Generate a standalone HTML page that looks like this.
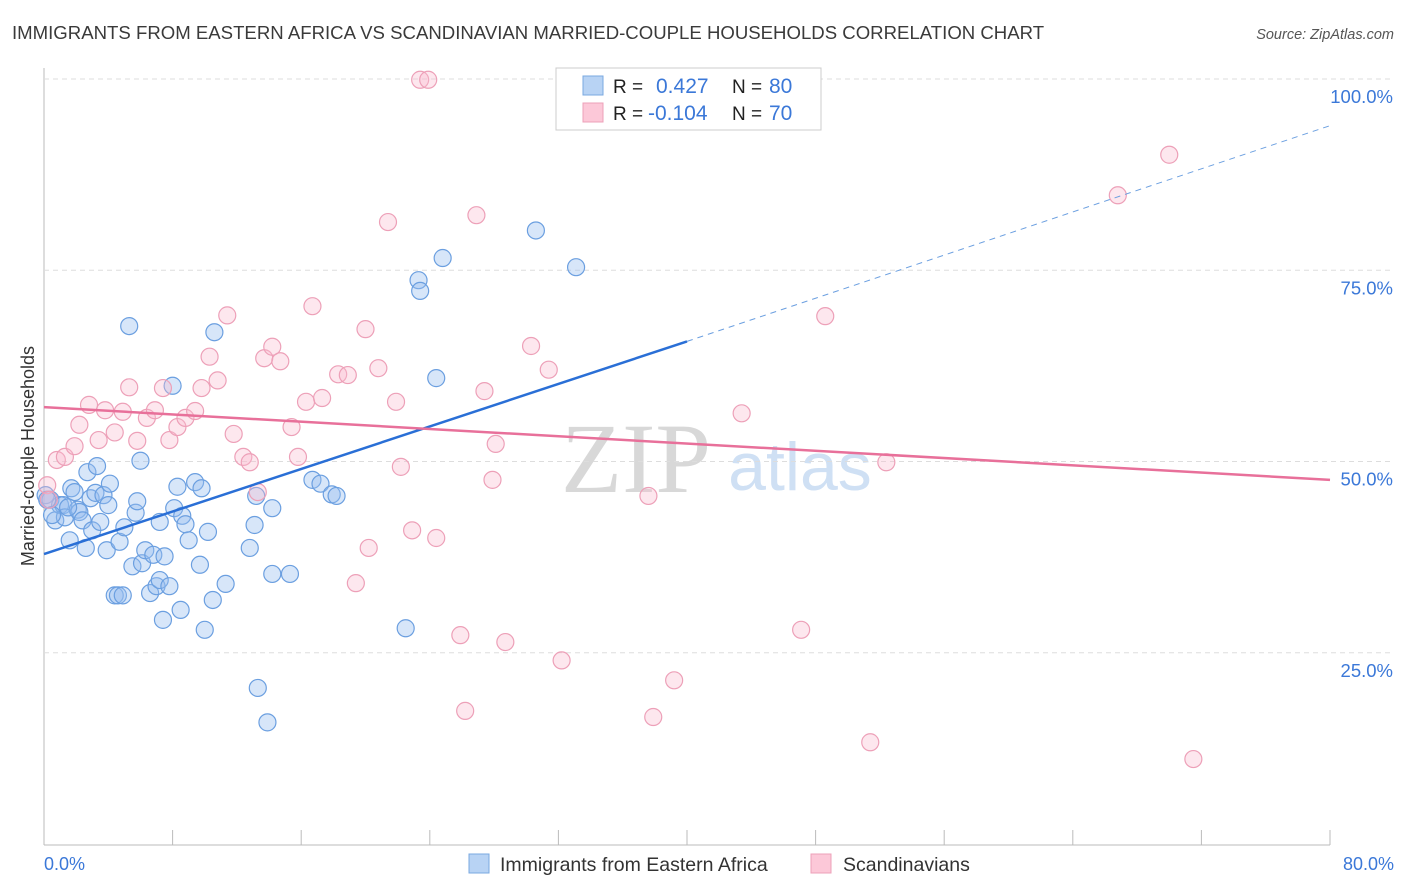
<!DOCTYPE html>
<html><head><meta charset="utf-8"><style>
body{margin:0;background:#fff;font-family:"Liberation Sans",sans-serif;}
svg{display:block}
</style></head><body>
<svg id="chart" width="1406" height="892">
<text x="12" y="39" font-size="18.6" fill="#3a3a3a">IMMIGRANTS FROM EASTERN AFRICA VS SCANDINAVIAN MARRIED-COUPLE HOUSEHOLDS CORRELATION CHART</text>
<text x="1394" y="39" font-size="14.5" fill="#555" font-style="italic" text-anchor="end">Source: ZipAtlas.com</text>
<text transform="translate(34,456) rotate(-90)" font-size="18" fill="#333" text-anchor="middle">Married-couple Households</text>
<text x="636" y="492" font-size="100" fill="#d8d8d8" font-family="Liberation Serif,serif" text-anchor="middle">ZIP</text>
<text x="800" y="490" font-size="68" fill="#cfe0f4" text-anchor="middle">atlas</text>
<g id="grid"></g><g id="pts"></g><g id="lines"></g>
<g>
<rect x="556" y="68" width="265" height="62" fill="#fff" stroke="#ccc"/>
<rect x="583" y="76" width="20" height="19" fill="#b8d3f4" stroke="#7aa8e0"/>
<rect x="583" y="103" width="20" height="19" fill="#fcc8d8" stroke="#eda0b8"/>
<text x="613" y="93" font-size="19" fill="#222">R = </text><text x="656" y="93" font-size="21" fill="#3b78d8">0.427</text>
<text x="732" y="93" font-size="19" fill="#222">N = </text><text x="769" y="93" font-size="21" fill="#3b78d8">80</text>
<text x="613" y="120" font-size="19" fill="#222">R = </text><text x="648" y="120" font-size="21" fill="#3b78d8">-0.104</text>
<text x="732" y="120" font-size="19" fill="#222">N = </text><text x="769" y="120" font-size="21" fill="#3b78d8">70</text>
</g>
<g>
<rect x="469" y="854" width="20" height="19" fill="#b8d3f4" stroke="#7aa8e0"/>
<text x="500" y="871" font-size="19.5" fill="#333">Immigrants from Eastern Africa</text>
<rect x="811" y="854" width="20" height="19" fill="#fcc8d8" stroke="#eda0b8"/>
<text x="843" y="871" font-size="19.5" fill="#333">Scandinavians</text>
</g>
<text x="44" y="870" font-size="18" fill="#3b78d8">0.0%</text>
<text x="1394" y="870" font-size="18" fill="#3b78d8" text-anchor="end">80.0%</text>
</svg>
<script>
const yTicks=[25,50,75,100];
const yTickLabels=["25.0%","50.0%","75.0%","100.0%"];
const blueX=[0.1,0.4,0.7,1.0,1.2,1.3,1.6,1.7,1.9,2.1,2.2,2.4,2.6,2.7,2.9,3.0,3.2,3.3,3.5,3.7,3.9,4.0,4.1,4.4,4.6,4.7,4.9,5.0,5.3,5.5,5.7,5.8,6.0,6.1,6.3,6.6,6.8,7.0,7.2,7.2,7.4,7.5,7.8,8.0,8.1,8.3,8.5,8.6,8.8,9.0,9.4,9.7,9.8,10.0,10.2,10.5,10.6,11.3,12.8,13.1,13.2,13.3,13.9,14.2,14.2,15.3,16.7,17.2,17.9,18.2,22.5,23.3,23.4,24.4,24.8,30.6,33.1,0.2,0.5,1.5];
const blueY=[45.6,45.0,42.3,44.3,44.3,42.7,39.7,46.5,46.0,43.7,43.4,42.3,38.7,48.6,45.2,41.0,45.9,49.4,42.1,45.6,38.4,44.3,47.1,32.5,32.5,39.5,32.5,41.4,67.7,36.3,43.3,44.8,50.1,36.7,38.4,32.8,37.8,33.7,34.5,42.1,29.3,37.6,33.7,59.9,43.9,46.7,30.6,42.9,41.8,39.7,47.3,36.5,46.5,28.0,40.8,31.9,66.9,34.0,38.7,41.7,45.5,20.4,15.9,35.3,43.9,35.3,47.6,47.1,45.7,45.5,28.2,73.7,72.3,60.9,76.6,80.2,75.4,45.0,43.0,44.0];
const pinkX=[0.2,0.8,1.3,1.9,2.2,2.8,3.4,3.8,4.4,4.9,5.3,5.8,6.4,6.9,7.4,7.8,8.3,8.8,9.4,9.8,10.3,10.8,11.4,11.8,12.4,12.8,13.3,13.7,14.2,14.7,15.4,15.8,16.3,16.7,17.3,18.3,18.9,20.0,20.2,19.4,20.8,21.4,21.9,22.2,22.9,23.4,23.9,24.4,25.9,26.2,26.9,27.4,27.9,28.1,28.7,30.3,31.4,32.2,37.6,37.9,39.2,43.4,47.1,48.6,51.4,52.4,66.8,70.0,71.5,0.3];
const pinkY=[46.9,50.2,50.6,52.0,54.8,57.4,52.8,56.7,53.8,56.5,59.7,52.7,55.7,56.7,59.6,52.8,54.5,55.7,56.6,59.6,63.7,60.6,69.1,53.6,50.6,49.9,46.0,63.5,65.0,63.1,54.5,50.6,57.8,70.3,58.3,61.4,61.3,67.3,38.7,34.1,62.2,81.3,57.8,49.3,41.0,99.9,99.9,40.0,27.3,17.4,82.2,59.2,47.6,52.3,26.4,65.1,62.0,24.0,45.5,16.6,21.4,56.3,28.0,69.0,13.3,49.9,84.8,90.1,11.1,45.0];
const blueTrend=[[0,37.9],[40,65.7],[80,93.9]];
const pinkTrend=[[0,57.1],[80,47.6]];
const X=v=>44+v/80*1286, Y=v=>844-v/100*765;
const NS="http://www.w3.org/2000/svg";
function mk(t,a,p){const e=document.createElementNS(NS,t);for(const k in a)e.setAttribute(k,a[k]);p.appendChild(e);return e;}
const grid=document.getElementById('grid');
mk('line',{x1:44,y1:68,x2:44,y2:845,stroke:'#bbb'},grid);
mk('line',{x1:44,y1:845,x2:1330,y2:845,stroke:'#bbb'},grid);
for(let i=1;i<=10;i++){const l=mk('line',{x1:44+i*128.6,y1:830,x2:44+i*128.6,y2:845,stroke:'#bbb'},grid);

}
yTicks.forEach((t,i)=>{const l=mk('line',{x1:44,y1:Y(t),x2:1394,y2:Y(t),stroke:'#ddd','stroke-dasharray':'5,4'},grid);


const tx=mk('text',{x:1393,y:Y(t)+24,'font-size':18.5,fill:'#3b78d8','text-anchor':'end'},grid);tx.textContent=yTickLabels[i];

});
const pts=document.getElementById('pts');
blueX.forEach((x,i)=>{const c=mk('circle',{cx:X(x),cy:Y(blueY[i]),r:8.5,fill:'rgba(150,190,240,0.38)',stroke:'#6b9fe0','stroke-width':1.2},pts);

});
pinkX.forEach((x,i)=>{const c=mk('circle',{cx:X(x),cy:Y(pinkY[i]),r:8.5,fill:'rgba(250,185,205,0.35)',stroke:'#eda0b8','stroke-width':1.2},pts);

});
const lines=document.getElementById('lines');
let b=mk('line',{x1:X(blueTrend[0][0]),y1:Y(blueTrend[0][1]),x2:X(blueTrend[1][0]),y2:Y(blueTrend[1][1]),stroke:'#2a6fd6','stroke-width':2.5},lines);


let bd=mk('line',{x1:X(blueTrend[1][0]),y1:Y(blueTrend[1][1]),x2:X(blueTrend[2][0]),y2:Y(blueTrend[2][1]),stroke:'#6b9fe0','stroke-width':1,'stroke-dasharray':'6,5'},lines);


let p=mk('line',{x1:X(pinkTrend[0][0]),y1:Y(pinkTrend[0][1]),x2:X(pinkTrend[1][0]),y2:Y(pinkTrend[1][1]),stroke:'#e8709a','stroke-width':2.5},lines);


</script>
</body></html>
